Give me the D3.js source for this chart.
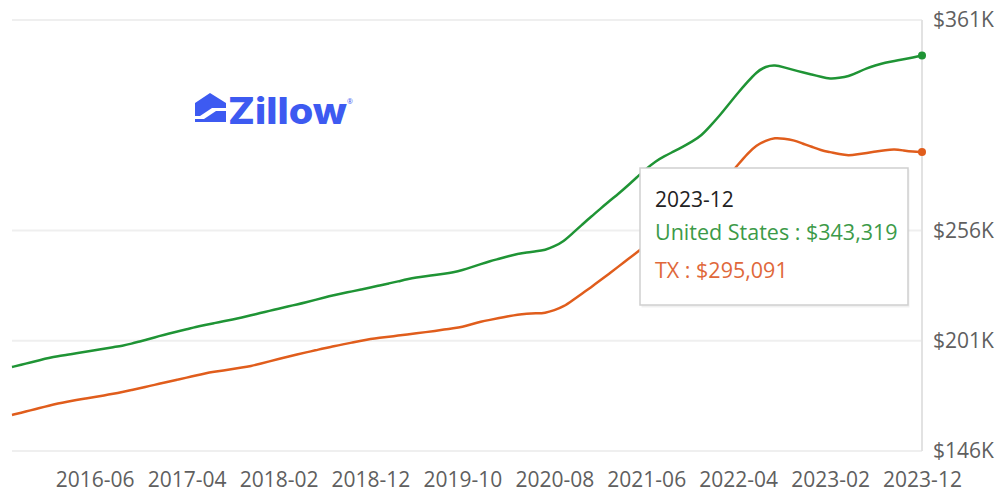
<!DOCTYPE html>
<html>
<head>
<meta charset="utf-8">
<script src="https://cdn.jsdelivr.net/npm/d3@7"></script>
<style>
  body { margin: 0; background: #fff; }
  text { font-family: "Open Sans", "Noto Sans", sans-serif; }
</style>
</head>
<body>
<div id="chart"></div>
<script>
// monthly ZHVI, thousands of dollars, 2015-09 .. 2023-12
const months = d3.timeMonth.range(new Date(2015, 8, 1), new Date(2024, 0, 1)).map(d3.timeFormat("%Y-%m"));

const usValues = [
  187.9, 189.0, 190.2, 191.3, 192.4, 193.3, 194.0, 194.8, 195.5, 196.3,
  197.0, 197.8, 198.5, 199.5, 200.8, 202.0, 203.3, 204.5, 205.6, 206.7,
  207.9, 208.9, 209.8, 210.7, 211.6, 212.6, 213.7, 214.8, 215.9, 217.0,
  218.1, 219.1, 220.2, 221.4, 222.6, 223.7, 224.7, 225.6, 226.6, 227.6,
  228.6, 229.6, 230.6, 231.7, 232.6, 233.2, 233.8, 234.4, 235.1, 236.2,
  237.7, 239.2, 240.7, 241.9, 243.2, 244.4, 245.1, 245.6, 246.2, 248.1,
  250.5, 254.7, 258.8, 262.9, 266.8, 270.7, 274.4, 278.4, 282.6, 286.8,
  290.5, 293.2, 295.4, 297.8, 300.4, 303.3, 308.3, 313.4, 319.1, 324.8,
  330.0, 335.1, 337.9, 338.6, 337.4, 336.1, 334.9, 333.8, 332.7, 331.6,
  332.1, 332.9, 334.9, 337.0, 338.4, 339.8, 340.6, 341.4, 342.2, 343.319
];

const txValues = [
  164.0, 165.1, 166.3, 167.4, 168.6, 169.7, 170.6, 171.4, 172.2, 173.0,
  173.7, 174.5, 175.4, 176.4, 177.4, 178.5, 179.5, 180.6, 181.6, 182.6,
  183.7, 184.7, 185.5, 186.2, 186.9, 187.6, 188.4, 189.5, 190.7, 191.9,
  193.0, 194.1, 195.2, 196.2, 197.3, 198.2, 199.2, 200.1, 201.0, 201.9,
  202.5, 203.0, 203.6, 204.1, 204.7, 205.3, 205.9, 206.6, 207.2, 207.9,
  209.2, 210.5, 211.4, 212.3, 213.2, 214.1, 214.5, 214.7, 214.8, 216.2,
  218.0, 221.2, 224.5, 227.7, 231.1, 234.6, 238.1, 241.6, 245.1, 248.7,
  252.4, 256.0, 259.4, 262.8, 266.2, 269.8, 273.9, 278.1, 283.5, 288.9,
  294.3, 298.6, 300.8, 302.3, 301.8, 301.1, 299.4, 297.8, 296.0, 295.1,
  294.1, 293.3, 294.0, 294.7, 295.4, 296.1, 296.6, 295.9, 295.3, 295.091
];

const xTickLabels = ["2016-06", "2017-04", "2018-02", "2018-12", "2019-10",
                     "2020-08", "2021-06", "2022-04", "2023-02", "2023-12"];
const yTickValues = [146, 201, 256, 361];

const seriesNames = ["United States", "TX"];
const seriesColors = ["#1f9435", "#e05d1c"];
const tooltipDate = "2023-12";

const width = 1001, height = 498;

const svg = d3.select("#chart").append("svg")
  .attr("width", width)
  .attr("height", height);

const x = d3.scalePoint().domain(months).range([12, 922]);
const y = d3.scaleLinear().domain([146, 361]).range([451, 20]);

// grid
svg.append("g")
  .selectAll("line")
  .data(yTickValues)
  .join("line")
  .attr("x1", 12).attr("x2", 922)
  .attr("y1", d => y(d)).attr("y2", d => y(d))
  .attr("stroke", "#efefef")
  .attr("stroke-width", 2);

svg.append("line")
  .attr("x1", x("2023-12")).attr("x2", x("2023-12"))
  .attr("y1", y(361)).attr("y2", y(146))
  .attr("stroke", "#e2e2e2")
  .attr("stroke-width", 2);

// y labels
const yAxis = d3.axisRight(y)
  .tickValues(yTickValues)
  .tickSize(0)
  .tickPadding(0)
  .tickFormat(d => "$" + d + "K");
svg.append("g")
  .attr("transform", "translate(933,0)")
  .call(yAxis)
  .call(g => g.select(".domain").remove())
  .selectAll("text")
  .attr("fill", "#5f5f5f")
  .attr("font-size", 21)
  .attr("font-family", "'Open Sans', sans-serif");

// x labels
const xAxis = d3.axisBottom(x)
  .tickValues(xTickLabels)
  .tickSize(0)
  .tickPadding(0);
svg.append("g")
  .attr("transform", "translate(0,472)")
  .call(xAxis)
  .call(g => g.select(".domain").remove())
  .selectAll("text")
  .attr("fill", "#5f5f5f")
  .attr("font-size", 21)
  .attr("font-family", "'Open Sans', sans-serif");

// logo
const logo = svg.append("g").attr("fill", "#3d5af1");
logo.append("path")
  .attr("d", "M195,103 L210,93 L226,103 L226,108 L212,108 L200,116 L195,116 Z");
logo.append("path")
  .attr("d", "M195,122 L226,122 L226,111 L216,111 L204,119 L195,119 Z");
logo.append("text")
  .attr("x", 228).attr("y", 124)
  .attr("font-size", 37)
  .attr("font-weight", 800)
  .attr("textLength", 119)
  .attr("lengthAdjust", "spacingAndGlyphs")
  .style("font-family", "Inter, 'Open Sans', sans-serif")
  .text("Zillow");
logo.append("text")
  .attr("x", 347).attr("y", 104)
  .attr("font-size", 7)
  .text("®");

// lines
const line = d3.line()
  .x((d, i) => x(months[i]))
  .y(d => y(d))
  .curve(d3.curveBasis);

[usValues, txValues].forEach((vals, k) => {
  svg.append("path")
    .datum(vals)
    .attr("fill", "none")
    .attr("stroke", seriesColors[k])
    .attr("stroke-width", 2.5)
    .attr("stroke-linejoin", "round")
    .attr("d", line);
  svg.append("circle")
    .attr("cx", x(months[months.length - 1]))
    .attr("cy", y(vals[vals.length - 1]))
    .attr("r", 4)
    .attr("fill", seriesColors[k]);
});

// tooltip
const tip = svg.append("g").attr("transform", "translate(640,168)");
tip.append("rect")
  .attr("x", 1.5).attr("y", 1.5)
  .attr("width", 268).attr("height", 138)
  .attr("fill", "#000").attr("opacity", 0.06);
tip.append("rect")
  .attr("width", 268).attr("height", 137)
  .attr("fill", "#fff")
  .attr("stroke", "#cfcfcf")
  .attr("stroke-width", 1.5);
tip.append("text")
  .attr("x", 15).attr("y", 39)
  .attr("font-size", 21)
  .attr("fill", "#222")
  .text(tooltipDate);
const fmt = d3.format("$,");
tip.append("text")
  .attr("x", 15).attr("y", 72)
  .attr("font-size", 21.5)
  .attr("fill", "#3c9a48")
  .text(seriesNames[0] + " : " + fmt(Math.round(usValues[usValues.length - 1] * 1000)));
tip.append("text")
  .attr("x", 15).attr("y", 110)
  .attr("font-size", 21.5)
  .attr("fill", "#e0683a")
  .text(seriesNames[1] + " : " + fmt(Math.round(txValues[txValues.length - 1] * 1000)));
</script>
</body>
</html>
